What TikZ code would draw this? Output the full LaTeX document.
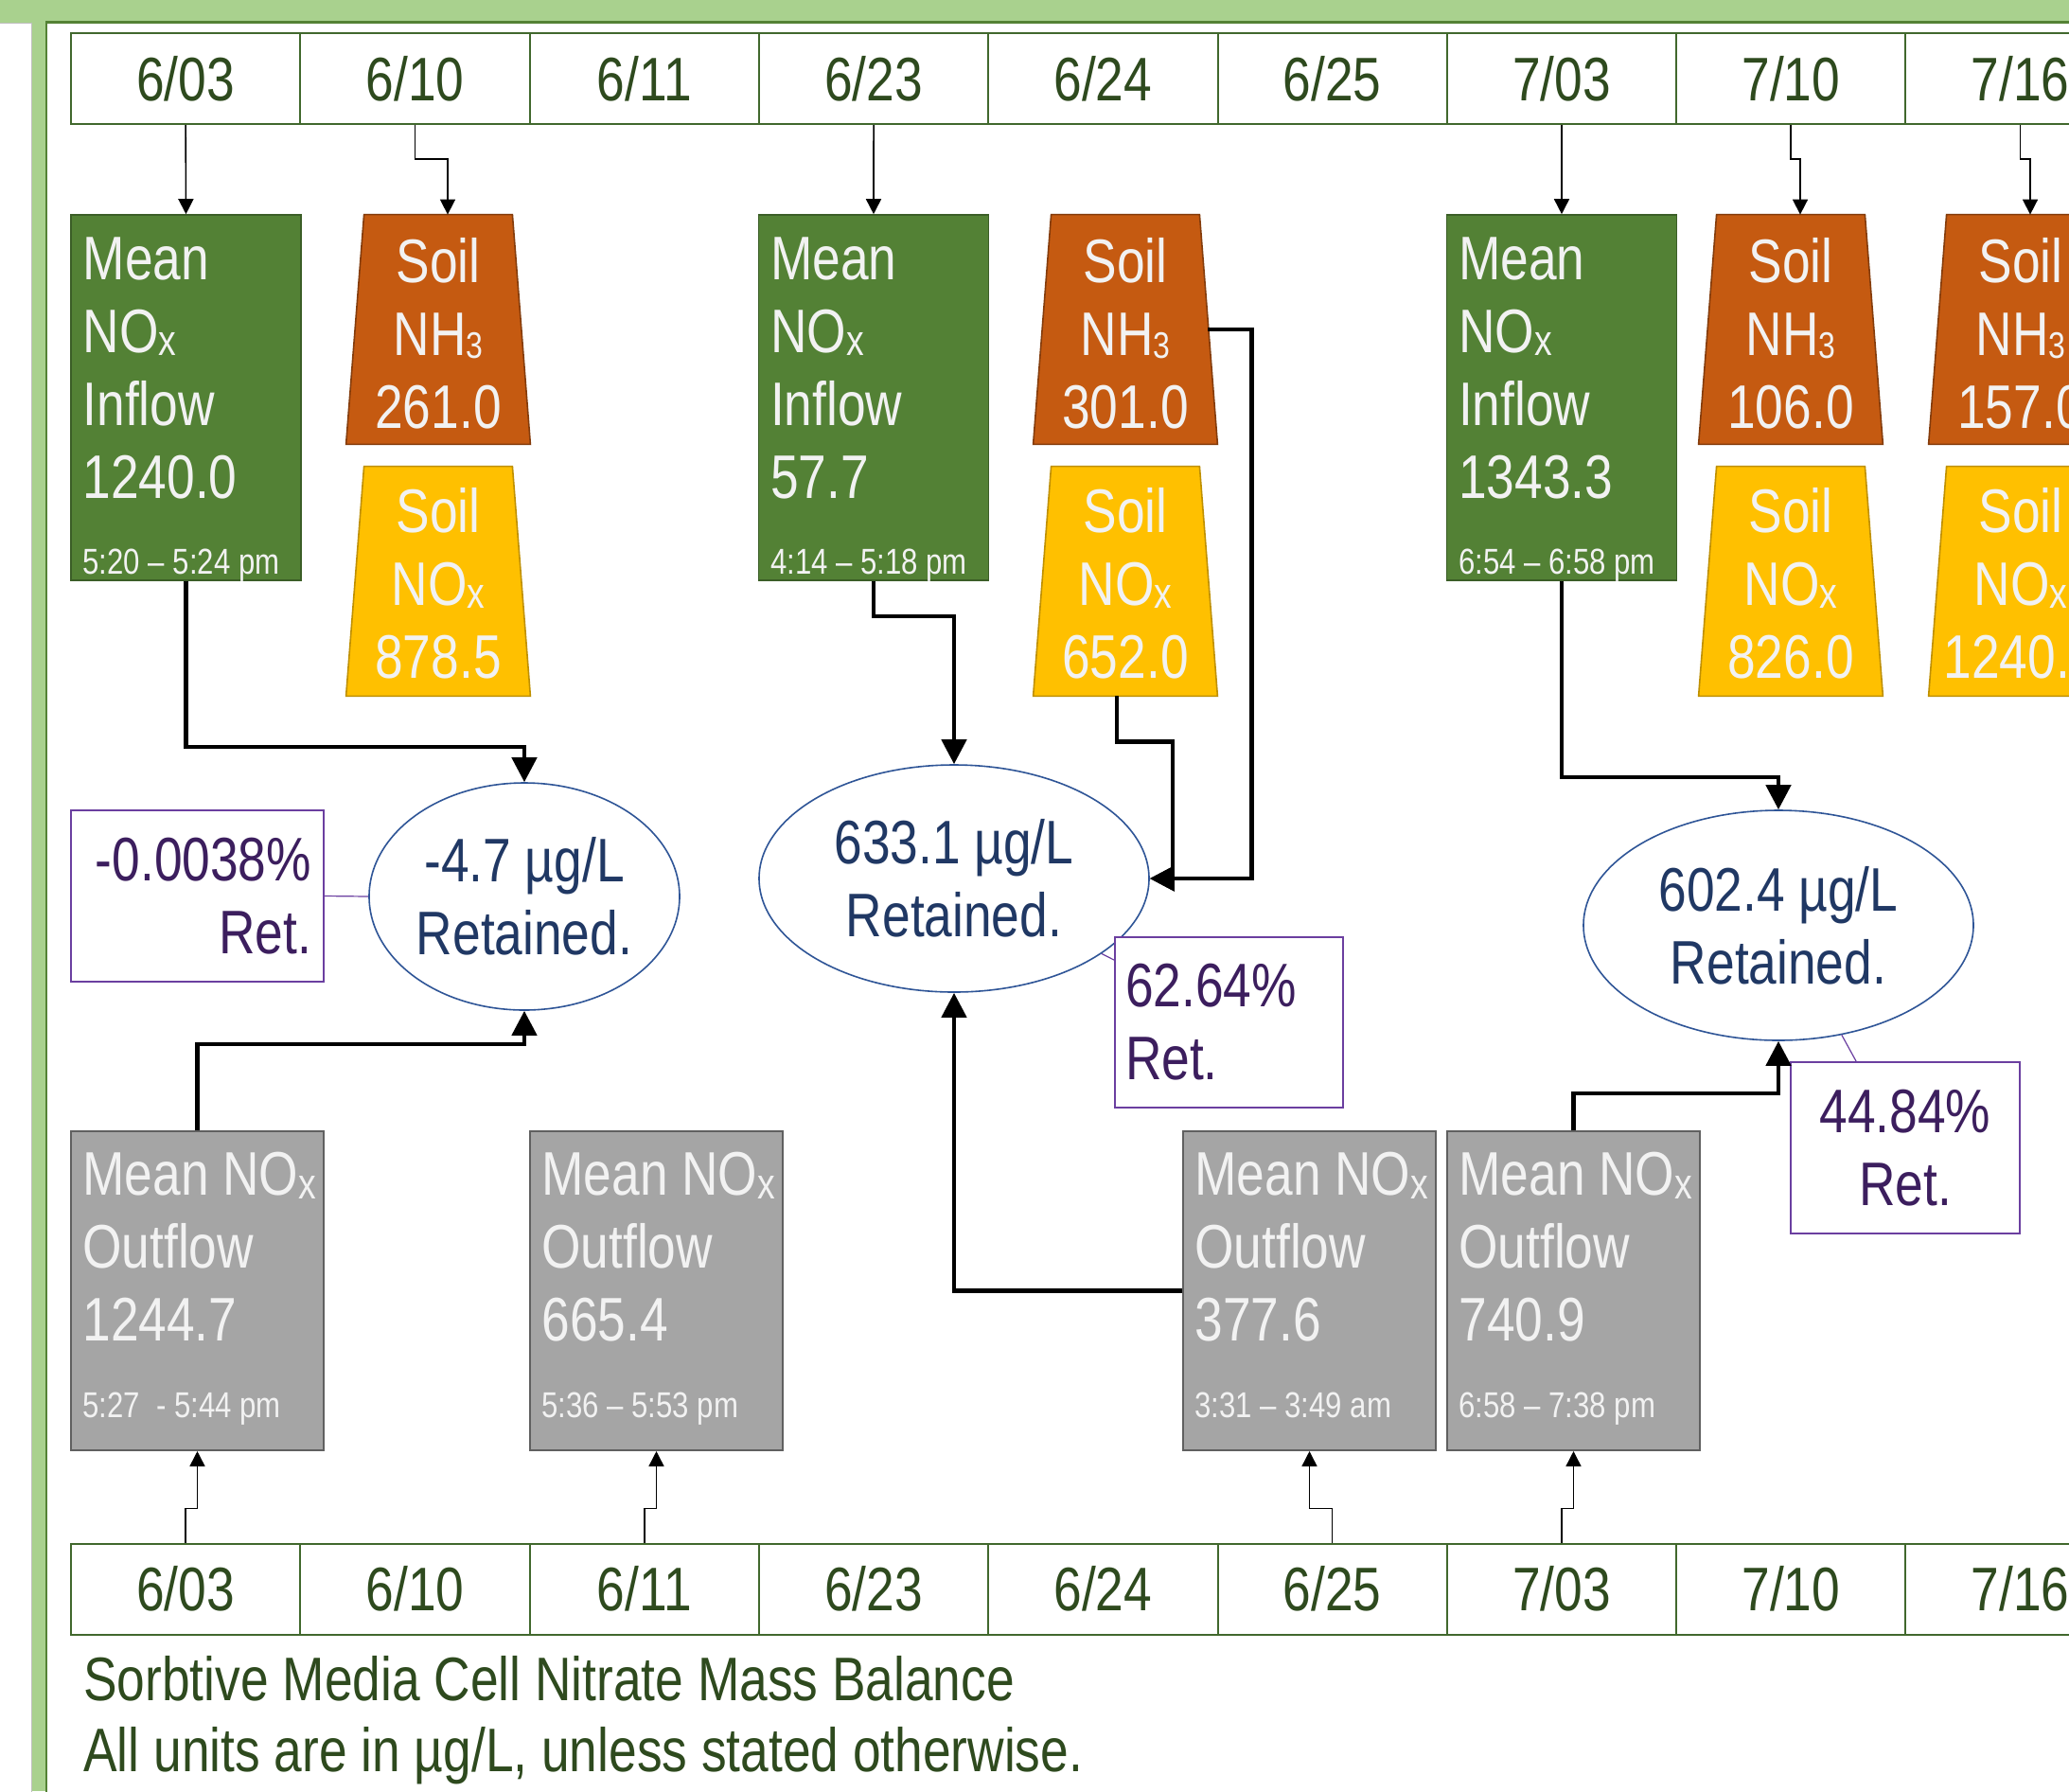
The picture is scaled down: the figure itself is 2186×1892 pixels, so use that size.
\documentclass[tikz,border=0pt]{standalone}
\usepackage{fontspec}
\setmainfont{Liberation Sans}[FakeStretch=0.82]
\usepackage{graphicx}
\usetikzlibrary{shapes.geometric,arrows.meta,calc}

\definecolor{framegreen}{HTML}{A9D18E}
\definecolor{framedark}{HTML}{548235}
\definecolor{cellborder}{HTML}{41682D}
\definecolor{celltext}{HTML}{2E4A1E}
\definecolor{gfill}{HTML}{538135}
\definecolor{gborder}{HTML}{3B5E27}
\definecolor{ofill}{HTML}{C55A11}
\definecolor{oborder}{HTML}{843C0C}
\definecolor{yfill}{HTML}{FFC000}
\definecolor{yborder}{HTML}{BF9000}
\definecolor{grfill}{HTML}{A5A5A5}
\definecolor{grborder}{HTML}{606060}
\definecolor{boxtext}{HTML}{F2F2F2}
\definecolor{eborder}{HTML}{2F5597}
\definecolor{etext}{HTML}{203864}
\definecolor{pborder}{HTML}{6B3FA0}
\definecolor{ptext}{HTML}{3C1E5E}

\newcommand\bigfont{\fontsize{32.5pt}{38.5pt}\selectfont}
\newcommand\smallfont{\fontsize{19pt}{22pt}\selectfont}
\newcommand\capfont{\fontsize{32.5pt}{37.5pt}\selectfont}
\newcommand\subx{\raisebox{-0.05em}{\scalebox{0.7}{x}}}
\newcommand\subthree{\raisebox{-0.05em}{\scalebox{0.6}{3}}}

\tikzset{
  datecell/.style={draw=cellborder, line width=1pt, minimum width=121.15pt, minimum height=48pt, inner sep=0, text=celltext},
  gbox/.style={fill=gfill, draw=gborder, line width=0.8pt, minimum width=121.5pt, minimum height=193pt, inner sep=0},
  trapbb/.style={rectangle, draw=none, minimum width=97pt, minimum height=121pt, inner sep=0},
  otrap/.style={fill=ofill, draw=oborder, line width=0.8pt},
  ytrap/.style={fill=yfill, draw=yborder, line width=0.8pt},
  greybox/.style={fill=grfill, draw=grborder, line width=1pt, minimum width=133.5pt, minimum height=168.5pt, inner sep=0},
  wtext/.style={text=boxtext, inner sep=0},
  ellbox/.style={ellipse, draw=eborder, line width=0.8pt, fill=white, inner sep=0, text=etext, align=center},
  pbox/.style={rectangle, draw=pborder, line width=0.9pt, fill=white, inner ysep=0, text=ptext},
  thinarr/.style={draw=black, line width=0.8pt, -{Triangle[width=8pt,length=8pt]}},
  thickarr/.style={draw=black, line width=2.3pt, -{Triangle[width=13pt,length=13pt]}},
  purpline/.style={draw=pborder, line width=0.6pt}
}

% trapezoid: name, x, y, style
\newcommand\soiltrap[4]{%
  \node[trapbb] (#1) at (#2,#3) {};
  \filldraw[#4] (#1.south west) -- ($(#1.north west)+(19,0)$) -- ($(#1.north east)+(-19,0)$) -- (#1.south east) -- cycle;
}

\begin{document}
\begin{tikzpicture}[x=0.5pt, y=-0.5pt, font=\bigfont]
\useasboundingbox (0,0) rectangle (2186,1892);
\clip (0,0) rectangle (2186,1892);

% frame
\fill[framegreen] (0,0) rectangle (2186,1892);
\filldraw[fill=white, draw=black!25, line width=0.5pt] (-5,24) rectangle (33,1900);
\fill[white] (50,24) rectangle (2200,1900);
\draw[framedark, line width=1.2pt] (49,1900) -- (49,23.5) -- (2200,23.5);

% date rows
\foreach \lab [count=\i from 0] in {6/03,6/10,6/11,6/23,6/24,6/25,7/03,7/10,7/16}{
  \node[datecell] (t\i) at ({196.15+242.3*\i},83) {\lab};
  \node[datecell] (b\i) at ({196.15+242.3*\i},1678.5) {\lab};
}

% inflow boxes
\node[gbox] (g1) at (196.5,420) {};
\node[gbox] (g2) at (923,420) {};
\node[gbox] (g3) at (1650,420) {};
\node[wtext, anchor=north west, align=left] (g1t) at ($(g1.north west)+(13,24)$) {Mean\\NO\subx\\Inflow\\1240.0};
\node[wtext, anchor=north west, align=left] (g2t) at ($(g2.north west)+(13,24)$) {Mean\\NO\subx\\Inflow\\57.7};
\node[wtext, anchor=north west, align=left] (g3t) at ($(g3.north west)+(13,24)$) {Mean\\NO\subx\\Inflow\\1343.3};
\node[wtext, font=\smallfont, anchor=base west] (g1s) at ($(g1.south west)+(13,-7)$) {5:20 – 5:24 pm};
\node[wtext, font=\smallfont, anchor=base west] (g2s) at ($(g2.south west)+(13,-7)$) {4:14 – 5:18 pm};
\node[wtext, font=\smallfont, anchor=base west] (g3s) at ($(g3.south west)+(13,-7)$) {6:54 – 6:58 pm};

% soil trapezoids
\soiltrap{o1}{463}{348}{otrap}
\soiltrap{o2}{1189}{348}{otrap}
\soiltrap{o3}{1892}{348}{otrap}
\soiltrap{o4}{2135}{348}{otrap}
\soiltrap{y1}{463}{614}{ytrap}
\soiltrap{y2}{1189}{614}{ytrap}
\soiltrap{y3}{1892}{614}{ytrap}
\soiltrap{y4}{2135}{614}{ytrap}
\node[wtext, align=center] (o1t) at ($(o1.center)+(0,4)$) {Soil\\NH\subthree\\261.0};
\node[wtext, align=center] (o2t) at ($(o2.center)+(0,4)$) {Soil\\NH\subthree\\301.0};
\node[wtext, align=center] (o3t) at ($(o3.center)+(0,4)$) {Soil\\NH\subthree\\106.0};
\node[wtext, align=center] (o4t) at ($(o4.center)+(0,4)$) {Soil\\NH\subthree\\157.0};
\node[wtext, align=center] (y1t) at ($(y1.center)+(0,2)$) {Soil\\NO\subx\\878.5};
\node[wtext, align=center] (y2t) at ($(y2.center)+(0,2)$) {Soil\\NO\subx\\652.0};
\node[wtext, align=center] (y3t) at ($(y3.center)+(0,2)$) {Soil\\NO\subx\\826.0};
\node[wtext, align=center] (y4t) at ($(y4.center)+(0,2)$) {Soil\\NO\subx\\1240.0};

% outflow boxes
\node[greybox] (r1) at (208.5,1363.5) {};
\node[greybox] (r2) at (693.5,1363.5) {};
\node[greybox] (r3) at (1383.5,1363.5) {};
\node[greybox] (r4) at (1662.5,1363.5) {};
\node[wtext, anchor=north west, align=left] (r1t) at ($(r1.north west)+(13,23)$) {Mean NO\subx\\Outflow\\1244.7};
\node[wtext, anchor=north west, align=left] (r2t) at ($(r2.north west)+(13,23)$) {Mean NO\subx\\Outflow\\665.4};
\node[wtext, anchor=north west, align=left] (r3t) at ($(r3.north west)+(13,23)$) {Mean NO\subx\\Outflow\\377.6};
\node[wtext, anchor=north west, align=left] (r4t) at ($(r4.north west)+(13,23)$) {Mean NO\subx\\Outflow\\740.9};
\node[wtext, font=\smallfont, anchor=base west] (r1s) at ($(r1.south west)+(13,-36)$) {5:27\ \ - 5:44 pm};
\node[wtext, font=\smallfont, anchor=base west] (r2s) at ($(r2.south west)+(13,-36)$) {5:36 – 5:53 pm};
\node[wtext, font=\smallfont, anchor=base west] (r3s) at ($(r3.south west)+(13,-36)$) {3:31 – 3:49 am};
\node[wtext, font=\smallfont, anchor=base west] (r4s) at ($(r4.south west)+(13,-36)$) {6:58 – 7:38 pm};

% retained ellipses
\node[ellbox, minimum width=164pt, minimum height=120pt] (e1) at (554,947) {-4.7 µg/L\\Retained.};
\node[ellbox, minimum width=206pt, minimum height=120pt] (e2) at (1008,928) {633.1 µg/L\\Retained.};
\node[ellbox, minimum width=206pt, minimum height=121.5pt] (e3) at (1879,977.5) {602.4 µg/L\\Retained.};

% percentage boxes
\node[pbox, minimum width=133.5pt, minimum height=90.5pt, text width=120.5pt, inner xsep=6.5pt, align=right] (p1) at (208.5,946.5) {-0.0038\%\\Ret.};
\node[pbox, minimum width=120.5pt, minimum height=90pt, text width=109.5pt, inner xsep=5.5pt, align=left] (p2) at (1298.5,1080) {62.64\%\\Ret.};
\node[pbox, minimum width=121pt, minimum height=90.5pt, inner xsep=0, align=center] (p3) at (2013,1212.5) {44.84\%\\Ret.};

\draw[purpline] (p1.east) -- (e1.west);
\draw[purpline] (e2.-27) -- ($(p2.north west)+(0,25)$);
\draw[purpline] (e3.-60) -- ($(p3.north west)+(70,0)$);

% thin arrows from date rows
\draw[thinarr] (t0.south) -- (g1.north);
\draw[thinarr] (t1.south) -- ++(0,36) -| ($(o1.north)+(10,0)$);
\draw[thinarr] (t3.south) -- (g2.north);
\draw[thinarr] (t6.south) -- (g3.north);
\draw[thinarr] (t7.south) -- ++(0,36) -| ($(o3.north)+(10,0)$);
\draw[thinarr] (t8.south) -- ++(0,36) -| ($(o4.north)+(10,0)$);
\draw[thinarr] (b0.north) -- ++(0,-36) -| (r1.south);
\draw[thinarr] (b2.north) -- ++(0,-36) -| (r2.south);
\draw[thinarr] (b5.north) -- ++(0,-36) -| (r3.south);
\draw[thinarr] (b6.north) -- ++(0,-36) -| (r4.south);

% thick flow connectors
\draw[thickarr] (g1.south) -- ++(0,175) -| (e1.north);
\draw[thickarr] (r1.north) -- ++(0,-91) -| (e1.south);
\draw[thickarr] (g2.south) -- ++(0,37) -| (e2.north);
\draw[thickarr] ($(y2.south)+(-9,0)$) -- ++(0,48) -| ($(e2.east)+(24,0)$) -- (e2.east);
\draw[thickarr] ($(o2.east)+(-10,0)$) -- ++(46,0) |- (e2.east);
\draw[thickarr] (r3.west) -| (e2.south);
\draw[thickarr] (g3.south) -- ++(0,207) -| (e3.north);
\draw[thickarr] (r4.north) -- ++(0,-39) -| (e3.south);

% caption
\node[inner sep=0, anchor=north west, align=left, text=celltext, font=\capfont] (cap) at (88,1749) {Sorbtive Media Cell Nitrate Mass Balance\\All units are in µg/L, unless stated otherwise.};
\end{tikzpicture}
\end{document}
